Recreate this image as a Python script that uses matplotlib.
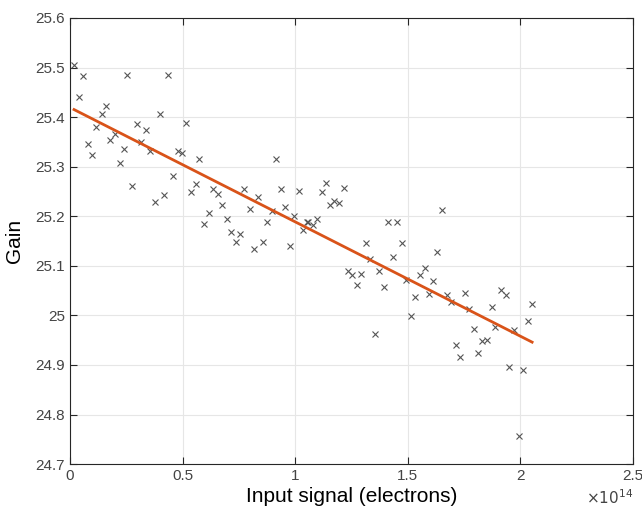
import numpy as np
import matplotlib
matplotlib.use('Agg')
import matplotlib.pyplot as plt
from matplotlib.ticker import FuncFormatter

plt.rcParams['font.family'] = ['Liberation Sans', 'DejaVu Sans']

# Input signal in units of 1e14 electrons, measured gain
signal = [
    0.018, 0.058, 0.038, 0.140, 0.159, 0.117, 0.080, 0.099, 0.177, 0.199,
    0.239, 0.220, 0.255, 0.298, 0.339, 0.316, 0.357, 0.277, 0.398, 0.437,
    0.376, 0.417, 0.456, 0.478, 0.499, 0.515, 0.575, 0.915, 0.558, 0.537,
    0.636, 0.658, 0.774, 0.937, 1.015, 0.835, 0.677, 0.956, 0.616, 0.798,
    0.897, 0.996, 0.597, 0.696, 0.876, 0.715, 0.757, 0.736, 0.855, 1.035,
    1.053, 0.975, 0.816, 1.136, 1.117, 1.215, 1.153, 1.174, 1.196, 1.058,
    1.077, 1.095, 1.413, 1.454, 1.316, 1.475, 1.333, 1.434, 1.233, 1.254,
    1.294, 1.372, 1.274, 1.395, 1.493, 1.555, 1.532, 1.515, 1.354, 1.653,
    1.631, 1.575, 1.612, 1.594, 1.674, 1.752, 1.693, 1.773, 1.872, 1.913,
    1.934, 2.052, 2.032, 1.889, 1.972, 1.793, 1.829, 1.851, 1.715, 1.733,
    1.811, 1.951, 2.010, 1.993,
]
gain = [
    25.505, 25.483, 25.440, 25.406, 25.422, 25.380, 25.346, 25.323, 25.353, 25.365,
    25.336, 25.308, 25.485, 25.387, 25.375, 25.349, 25.331, 25.262, 25.407, 25.485,
    25.229, 25.242, 25.282, 25.332, 25.328, 25.389, 25.315, 25.315, 25.266, 25.248,
    25.255, 25.245, 25.255, 25.255, 25.252, 25.239, 25.223, 25.219, 25.207, 25.215,
    25.211, 25.201, 25.185, 25.194, 25.189, 25.169, 25.164, 25.149, 25.149, 25.172,
    25.188, 25.141, 25.135, 25.268, 25.248, 25.258, 25.223, 25.230, 25.227, 25.189,
    25.182, 25.195, 25.189, 25.189, 25.146, 25.146, 25.113, 25.118, 25.090, 25.081,
    25.083, 25.089, 25.061, 25.058, 25.072, 25.082, 25.038, 24.999, 24.963, 25.212,
    25.127, 25.096, 25.069, 25.043, 25.042, 25.046, 25.027, 25.013, 25.017, 25.051,
    25.042, 25.024, 24.989, 24.977, 24.970, 24.973, 24.948, 24.951, 24.941, 24.916,
    24.924, 24.895, 24.890, 24.757,
]

x = np.array(signal)
y = np.array(gain)

# least-squares line over the data range
k, b = np.polyfit(x, y, 1)
x_fit = np.array([x.min(), x.max()])
y_fit = k * x_fit + b

fig = plt.figure(figsize=(6.42, 5.14), dpi=100)
ax = fig.add_axes([0.109, 0.097, 0.877, 0.868])

ax.plot(x, y, ls='none', marker='x', ms=4.5, mew=0.8, color='#555555')
ax.plot(x_fit, y_fit, color='#D95319', lw=2)

ax.set_xlim(0, 2.5)
ax.set_ylim(24.7, 25.6)
ax.set_xticks(np.arange(0, 2.51, 0.5))
ax.set_yticks(np.arange(24.7, 25.61, 0.1))
ax.xaxis.set_major_formatter(FuncFormatter(lambda v, pos: f'{v:g}'))
ax.yaxis.set_major_formatter(FuncFormatter(lambda v, pos: f'{round(v, 1):g}'))

ax.grid(True, color='#e6e6e6', lw=0.8)
ax.set_axisbelow(True)
ax.tick_params(direction='in', length=5, width=0.8, colors='#262626',
               labelsize=11, top=True, right=True, labelcolor='#444444')
for s in ax.spines.values():
    s.set_color('#262626')
    s.set_linewidth(0.8)

ax.set_xlabel('Input signal (electrons)', fontsize=15, labelpad=3)
ax.set_ylabel('Gain', fontsize=15, labelpad=8)
ax.text(1.0, -0.074, r'$\times10^{14}$', transform=ax.transAxes,
        ha='right', va='center', fontsize=11, color='#444444')

fig.savefig('out.png', dpi=100)
